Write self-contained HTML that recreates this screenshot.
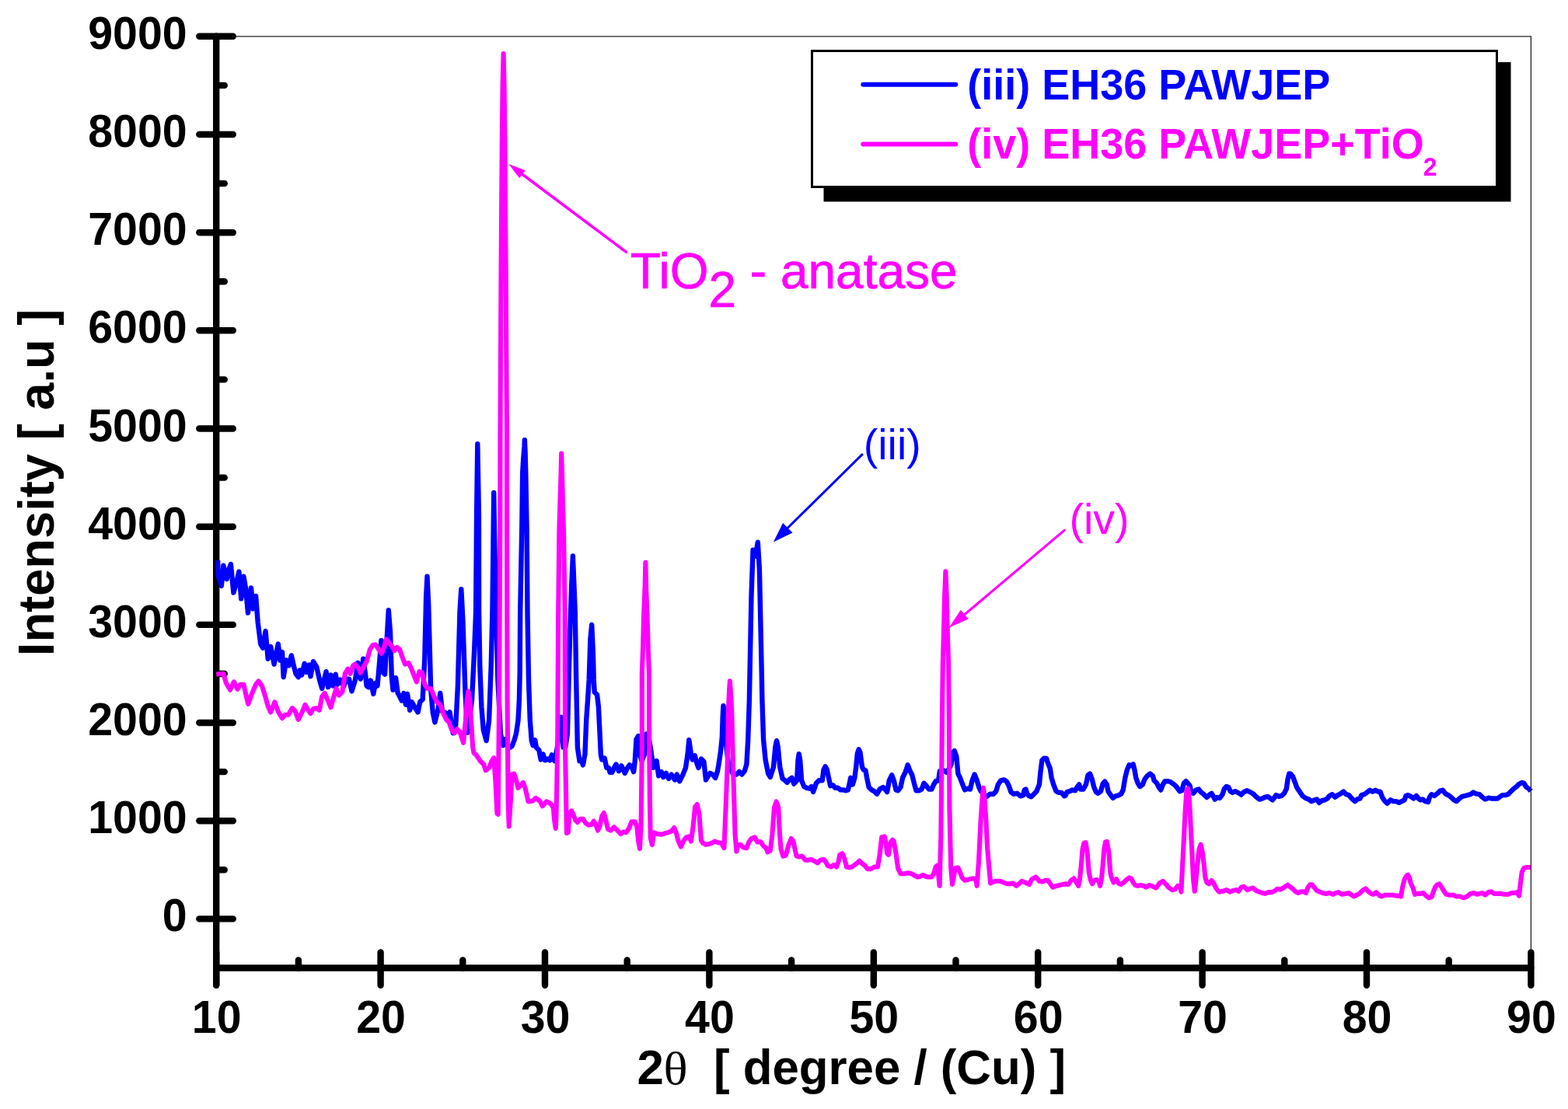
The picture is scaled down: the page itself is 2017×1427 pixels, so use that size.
<!DOCTYPE html>
<html lang="en"><head><meta charset="utf-8"><title>XRD pattern</title>
<style>
html,body{margin:0;padding:0;background:#fff;}
body{width:2017px;height:1427px;overflow:hidden;}
svg{display:block;}
text{font-family:"Liberation Sans",sans-serif;font-weight:bold;}
.tk{font-size:57.3px;fill:#000;}
.ttl{fill:#000;}
.lg{font-size:54px;}
.an{font-weight:normal;}
.th{font-family:"Liberation Serif",serif;font-weight:normal;}
</style></head><body>
<svg width="2017" height="1427" viewBox="0 0 2017 1427">
<rect x="0" y="0" width="2017" height="1427" fill="#fff"/>
<g stroke="#000" stroke-width="8.4" stroke-linecap="round" fill="none">
<path d="M278.2 46.8 V1267.7"/>
<path d="M278.2 1245.5 H1969.4"/>
<path d="M256.3 1182.4H299.8M256.3 1056.2H299.8M256.3 930.0H299.8M256.3 803.9H299.8M256.3 677.7H299.8M256.3 551.5H299.8M256.3 425.3H299.8M256.3 299.2H299.8M256.3 173.0H299.8M256.3 46.8H299.8M278.2 1119.3H288.8M278.2 993.1H288.8M278.2 867.0H288.8M278.2 740.8H288.8M278.2 614.6H288.8M278.2 488.4H288.8M278.2 362.2H288.8M278.2 236.1H288.8M278.2 109.9H288.8M278.2 1225.5V1267.7M489.6 1225.5V1267.7M701.0 1225.5V1267.7M912.4 1225.5V1267.7M1123.8 1225.5V1267.7M1335.2 1225.5V1267.7M1546.6 1225.5V1267.7M1758.0 1225.5V1267.7M1969.4 1225.5V1267.7M383.9 1235.4V1245.5M595.3 1235.4V1245.5M806.7 1235.4V1245.5M1018.1 1235.4V1245.5M1229.5 1235.4V1245.5M1440.9 1235.4V1245.5M1652.3 1235.4V1245.5M1863.7 1235.4V1245.5"/>
</g>
<polyline fill="none" stroke="#0000ff" stroke-width="6.4" stroke-linejoin="round" stroke-linecap="butt" points="280.1,720.9 280.6,740 284.8,753.9 287.4,727.8 291.7,745.2 293.5,734.8 296.9,726.1 300.4,762.6 303.9,750.4 307.4,735.6 310.3,770.4 313.4,741.7 316.1,757.4 319,788.6 323,756.5 325.6,783.4 329.1,766.9 331.7,800.8 335.2,828.6 338.1,833.8 341.6,812.1 344.7,847.7 348.2,832.1 352.6,854.7 357.8,828.6 360.4,849.5 363,839 364.7,871.2 368.2,849.5 371.7,856.4 374.8,843.4 377.8,856.4 380.4,866.8 383.8,871.2 385.6,862.5 388.2,868.6 391.7,853.8 394.3,865.1 397.7,855.5 399.5,870.3 403,851.2 407.3,858.2 410.8,873.8 414.2,886 419.5,864.2 422.1,884.2 425.5,868.6 428.2,882.5 431.6,867.7 434.2,880.7 437.7,874.7 442.1,883.4 445.5,873.8 449,873.8 452.5,889.4 456.8,875.5 460.3,852.9 463.8,873.8 467.3,847.7 469.9,866.8 471.6,882.5 474.2,884.2 476.8,875.5 480.3,892.9 482.9,879 485.5,882.5 488.1,852.9 490.4,824.3 492.5,865.1 495.1,867.7 497.7,821.7 499.8,785.2 502,813 503.8,870.3 505.5,887.7 509,872.1 511.6,891.2 516.8,901.6 519.4,892 522,906.8 524.1,892.9 527.2,913.8 529.8,903.3 534.2,911.2 537.6,916.4 540.2,903.3 543.7,899.9 546.3,847.7 548.1,769.5 549.5,741.7 551.2,778.2 554.2,887.7 556.8,917.2 559.4,929.4 563.7,912 566.3,892 568.9,915.5 573.3,917.2 575.9,924.2 578.5,916.4 582.8,943.3 586.3,932.9 588.9,882.5 591.5,786.9 593.3,758.2 595.3,795.6 598.5,891.2 601.3,942.7 607,901 610,840.1 612.1,788 613.1,661.7 614.3,571.3 615.9,661.7 616.1,788 617.3,857.5 619.4,909.7 621.8,939.2 625.6,953.1 629.1,927 631.7,857.5 633.4,788 634.3,713.8 635.2,634 636.6,713.8 638.3,788 640.4,874.9 643.9,944.4 647.4,959.2 650,951.4 653.4,960.1 656,961.8 658.6,960.1 661.3,953.1 663.9,944.4 666.5,927 667.9,901 668.7,866.2 669.2,788 670.5,720 671.3,680 672.2,608 673.3,590 674.5,575 674.9,566.3 675.6,582 676.3,609 677.6,680 678.5,788 680,874.9 681.8,927 683.8,953.1 685.6,959.2 688.2,952.2 689.9,961.8 693.4,965.3 695.7,977.4 698.6,970.5 701.2,978.3 704.7,976.6 707.3,978.3 709.9,971.4 713.4,979.2 716.9,961.8 719.5,935.7 721.7,922.7 723.5,944.4 724.7,961.8 727.3,961.8 729.9,944.4 731.6,874.9 733.4,805.4 735.1,757.2 736.9,715.4 738.6,757.2 739.8,788 741.2,874.9 742.9,961.8 745.5,979.2 748.2,978.3 749.9,984.4 752.5,970.5 754.2,927 756,901 757.7,874.9 759.4,822.8 761.2,804 762.9,840.1 763.8,874.9 764.7,890.5 768.1,894 769.9,909.7 771.6,944.4 772.8,970.5 774.2,977.4 777.7,975.7 780.3,987.9 782.9,987.9 784.6,993.9 787.3,993.9 789.9,987.9 792.5,983.5 795.9,992.2 799.4,985.3 803.8,994.8 807.2,987.9 809.8,984.4 812.5,986.1 815.1,993.1 816.8,979.2 818.5,951.4 821.1,947 822.9,970.5 825.5,979.2 829,970.5 831.6,944.4 834.2,947.9 836.8,961.8 840.3,987.9 844.6,979.2 847.2,998.3 850.7,993.1 853.3,1000 856.8,994.8 860.2,1001.8 863.7,996.6 868.1,1003.5 870.7,996.6 874.2,1005.2 878.5,996.6 882,987.9 884.6,970.5 886.3,952.2 888.9,970.5 890.7,977.4 893.8,972.2 895.9,980.9 898.5,987.9 902,976.6 905.4,980 908,1003.5 913.3,994.8 916.7,996.6 920.2,1000.9 922.8,993.1 924.3,985 927,967 928.8,949 929.8,920 930.5,908.3 932.1,926.1 933.5,952.1 937,983.4 942.2,994.7 947.4,996.5 950.9,993 954.3,996.5 957.8,992.1 960.4,983.4 962.2,952.1 963.9,900 964.8,853.8 966.5,766.9 968.6,707.8 971.7,715.6 974.8,697.7 976.9,732.1 979.5,853.8 980.4,900 982.1,952.1 984.7,978.2 988.2,995.6 990.8,999.9 995,986.9 997.4,960.8 999,953.2 1000.7,960.8 1003.2,986.9 1006.5,1001.7 1009.9,1004.3 1012.6,1006.9 1015.2,1003.4 1018.6,1000.8 1021.2,1008.6 1025.1,1004.3 1026.5,978.2 1027.7,970.2 1029.2,978.2 1031.1,1004.3 1034.3,1012.1 1037.8,1013.8 1041.2,1014.7 1043.8,1012.1 1046.1,1019 1048.2,1013 1049.9,1007.8 1053.4,1004.3 1057.7,1004.3 1059.5,990.4 1061.6,986.4 1063.8,990.4 1065.6,999.1 1068.2,1011.2 1071.6,1010.4 1074.2,1013.8 1077.7,1013.8 1081.2,1016.4 1084.7,1016.4 1088.2,1017.3 1090.8,1016.4 1092.5,1009.5 1094.2,1000.8 1096.8,1009.5 1099.4,1000.8 1101.2,986.9 1102.9,969.5 1104.7,964.3 1106.4,967.8 1109,986.9 1110.7,990.4 1113.4,991.2 1115.1,1000.8 1117.7,1013 1121.2,1016.4 1124.6,1018.2 1128.1,1021.7 1131.6,1015.6 1135.9,1013 1138.6,1015.6 1141.2,1019 1143.8,1004.3 1147.2,997.3 1149.8,1004.3 1152.5,1016.4 1155.1,1017.3 1158.5,1013 1161.1,1000.8 1164.6,993.8 1167.7,984.3 1170.7,992.1 1173.3,997.3 1175.9,1007.8 1178.5,1017.3 1182,1017.3 1185.5,1015.6 1188.6,1007.8 1191.6,1011.2 1195,1015.6 1198.5,1015.6 1201.1,1009.5 1203.7,1005.1 1207.2,1004.3 1208.9,992.1 1213.3,991.2 1217.6,993.8 1221.1,988.6 1223.7,983.4 1225.4,969.5 1227.7,966 1230.3,973 1232.4,995.6 1235,1000.8 1237.6,1007.8 1241.1,1016.4 1244.6,1014.7 1248,1015.6 1250.6,1004.3 1253.6,996.5 1256.7,1004.3 1259.3,1013 1261.9,1018.2 1265.4,1021.7 1268.9,1025.1 1273.5,1021.7 1277.8,1021.7 1281.3,1018.2 1283.9,1009.5 1287.4,1004.3 1291.7,1003.4 1295.2,1006 1297.8,1011.3 1300.4,1019.1 1303.9,1021.7 1308.2,1020.8 1312.6,1024.3 1316.1,1023.4 1317.8,1016.5 1319.5,1015.6 1321.3,1021.7 1323.9,1024.3 1326.5,1025.2 1330,1021.7 1333.4,1018.2 1336.9,1009.5 1338.6,992.1 1340.4,978.2 1343,975.6 1346.1,976 1348.2,982.6 1350.8,988.7 1352.6,1000.8 1355.2,1009.5 1358.6,1018.2 1362.1,1019.9 1365.6,1019.9 1369.1,1024.3 1370.8,1023.4 1372.5,1019.1 1376,1018.2 1379.5,1016.5 1383,1017.3 1385.6,1013 1388.2,1009.5 1389.9,1015.6 1393.4,1015.6 1396.9,1009.5 1399.5,997.4 1402.1,995.6 1404.7,1002.6 1407.3,1013 1409.9,1019.1 1412.5,1020.8 1416,1018.2 1418.6,1008.6 1421.2,1005.7 1423.8,1009.5 1425.5,1018.2 1429,1023.4 1431.6,1026.9 1435.1,1024.3 1438.6,1023.4 1442.1,1021.7 1444.7,1016.5 1447.3,1000.8 1449.9,990.4 1452.5,984.3 1455.1,985.2 1457.7,983.4 1459.4,990.4 1461.2,1000.8 1463.8,1007.8 1466.4,1012.1 1469.9,1009.5 1472.5,1002.6 1475.9,998.2 1479.4,995.6 1482.9,998.2 1484.6,1004.3 1488.1,1007.8 1490.7,1013 1493.3,1016.5 1495.9,1009.5 1498.5,1005.2 1502,1005.2 1505.5,1006 1509,1008.6 1512.4,1011.3 1515,1014.7 1517.7,1018.2 1520.3,1017.3 1522.9,1007.8 1525.5,1005.2 1528.1,1007.8 1530.7,1011.3 1532.4,1019.9 1535,1020.8 1538.5,1016.5 1542,1015.6 1544.6,1019.1 1548.1,1021.7 1552.4,1026 1555.9,1022.6 1558.5,1020.8 1561.1,1025.2 1562.8,1028.6 1565.4,1026 1568.9,1026.9 1572.4,1022.6 1575,1014.7 1577.6,1012.1 1580.2,1013 1582.8,1018.2 1585.4,1019.9 1588.9,1018.2 1592.4,1019.9 1596.7,1022.6 1600.2,1019.1 1603.7,1017.3 1608,1019.1 1612.4,1021.7 1615.8,1025.2 1620,1028.6 1623.6,1027.5 1627.1,1025.8 1630.7,1024.9 1634.3,1027.5 1637,1029.3 1639.7,1025.8 1641.4,1023.1 1645,1024.9 1648.6,1024 1652.2,1020.4 1654.8,1015 1656.6,1002.5 1658.4,995.4 1660.2,995.7 1662.9,999 1665.6,1006.1 1668.2,1013.3 1671.8,1018.6 1675.4,1024 1679,1026.7 1683.4,1028.4 1687,1031.1 1691.5,1029.3 1694.1,1028.4 1696.8,1032.9 1700.4,1030.2 1704,1029.3 1707.5,1027.5 1710.2,1024 1713.8,1022.2 1717.4,1025.8 1720.9,1023.1 1724.5,1021.3 1728.1,1018.6 1731.7,1022.2 1735.2,1023.1 1738.8,1027.5 1742.9,1031.1 1746,1028.4 1749.5,1027.5 1751.3,1023.1 1754.9,1022.2 1758.5,1019.5 1762,1016.8 1765.6,1018.6 1769.2,1016.8 1772.8,1018.6 1775.4,1018.6 1778.1,1025.8 1780.8,1030.2 1784.4,1033.8 1788.8,1029.3 1792.4,1031.1 1796,1031.1 1799.6,1032.9 1803.1,1031.1 1806.7,1029.3 1808.5,1024 1811.2,1023.1 1814.7,1024.9 1818.3,1027.5 1821.9,1024 1824.6,1027.5 1827.3,1029.3 1829.9,1028.4 1833.5,1031.1 1837.1,1032 1838.9,1025.8 1841.5,1022.2 1845.1,1024 1848.7,1021.3 1852.3,1017.7 1855.8,1016.8 1859.4,1021.3 1863,1023.1 1866.6,1025.8 1870.1,1029.3 1873.7,1031.1 1877.3,1027.5 1880.9,1024.9 1884.4,1024 1888,1023.1 1891.6,1022.2 1895.1,1019.5 1898.7,1021.3 1903.2,1022.2 1906.8,1025.8 1910.3,1028.4 1914.8,1026.7 1918.4,1027.5 1921.9,1027.5 1926.4,1027.5 1930,1024.9 1932.7,1023.1 1936.2,1023.1 1939.8,1022.2 1943.4,1018.6 1947,1015 1950.5,1012.4 1954.1,1008.8 1957.7,1007 1960.4,1007.9 1963,1012.4 1966.6,1015 1969.2,1018"/>
<polyline fill="none" stroke="#ff00ff" stroke-width="6.1000000000000005" stroke-linejoin="round" stroke-linecap="butt" points="278.2,867.5 287.4,866.8 290.9,879 296.1,887.7 300.9,877.3 305.6,886.8 309.1,880.7 313.4,880.7 316.9,896.4 319.2,905.9 323.9,892.9 329.1,880.7 332.6,876.4 336.9,882.5 341.3,896.4 344.7,908.6 348.2,916.4 353.4,903.3 357.8,915.5 363,924.2 366.5,919.8 370.8,919.8 376,911.2 379.5,914.6 383.8,925.9 388.2,917.2 392.5,906.8 396,912.9 399.5,918.1 403,912 407.3,911.2 410.8,913.8 414.2,896.4 417.7,892 421.2,899.9 425.5,910.3 429.9,894.6 432.5,886 436,894.6 440.3,890.3 443.8,866.8 447.3,860.8 450.7,866.8 454.2,856.4 456.8,854.7 461.2,859.9 463.8,866 468.1,857.3 471.6,851.2 475.9,835.6 479.4,830.3 482.9,829.5 487.2,835.6 490.7,840.8 494.2,832.1 496.8,822.5 500.3,826.9 504.6,832.1 507.2,837.3 510.7,833 514.2,835.6 517.7,846 521.1,854.7 525.5,852.9 529,859.9 532.4,868.6 535.9,877.3 539.4,864.2 542.9,865.1 546.3,880.7 549.8,886 554.2,886 558.5,896.4 562,903.3 566.3,906.8 570.7,919 574.1,925.9 577.6,929.4 581.1,939 584.6,943.3 588,938.1 591.5,941.6 593.5,947.9 596.1,955.7 598.9,927 600.8,899.2 602.5,889.7 604.3,899.2 606,927 608.2,961.8 609.5,968.7 612.6,971.4 617.8,979.2 622.2,983.5 624.8,991.3 629.1,987.9 632.6,979.2 635.2,975.3 637.3,1003.4 639.5,1046.9 640.7,1047.8 642.1,900 643.3,680 643.5,560 644.6,345 645.8,180 646.6,110 647.6,69 648.6,110 649.4,180 650.6,345 652,560 652,680 652.6,900 653.6,1029.5 654.7,1063.4 656.9,1029.5 658.6,996.5 661.3,995.6 663.9,1003.4 666.5,1013.9 669.9,1010.4 673.1,1006.9 676,1015.6 679.5,1031.3 682.1,1031.3 685.6,1030.4 689.1,1026.9 694.3,1030.4 697.8,1037.3 703,1031.3 708.2,1033.9 711.7,1039.1 713.4,1057.3 714.8,1066 715.6,1047 717.2,960 717.5,900 718.2,788 719.4,682 720.5,644 721.6,609 722.2,583.6 723,609 723.9,644 725,682 726.6,788 726.9,900 727,960 728.5,1047 729,1072 730.8,1071.2 732.5,1046.9 735.1,1043.4 737.7,1048.6 740.3,1055.6 742.9,1058.2 746.4,1053.8 749.9,1053.8 753.4,1059.1 756.8,1061.7 761.2,1060.8 763.8,1056.5 766.4,1060.8 769,1068.6 771.6,1062.5 774.2,1050.4 776.8,1046 779.4,1055.6 782,1066.9 785.5,1068.6 789.9,1064.3 794.2,1068.6 798.6,1073 802,1070.4 805.5,1071.2 809,1066 812.5,1057.3 816.8,1057.3 819.4,1064.3 821.1,1081.7 822.9,1092 824.6,1064 825.8,960 825.8,868 827.1,831 828.2,790 829.6,756 830.4,723.7 831.1,756 832.5,790 833.6,831 835,868 835.2,960 835.9,1029 836.8,1078 838.9,1087 841.1,1071.2 845.5,1073 850.7,1073.8 855.9,1072.1 859.4,1071.2 863.7,1069.5 867.2,1065.1 869.8,1071.2 872.4,1081.7 875.9,1089.5 879.4,1081.7 882.8,1077.3 886.3,1076.4 888.9,1082.5 891.5,1064.3 894.1,1038.2 896.7,1035.1 899.4,1046.9 902,1081.7 904.6,1085.1 908,1086.9 911.5,1086 915,1085.1 919.3,1082.5 923.7,1084.3 928,1085.1 931.5,1091.2 933.6,1039 935.7,985 937,913.6 938,890 938.9,876.4 939.9,890 941.2,913.6 943,985 944.6,1040 945.6,1073.8 947.4,1095.5 949.1,1087.7 952.6,1086.8 956.1,1090.3 960.4,1091.2 963,1084.2 966.5,1079 970.8,1077.3 974.3,1083.4 978.7,1083.4 982.1,1088.6 985.6,1091.2 987.4,1096.4 990.8,1094.6 993.4,1073.8 996,1039 998.6,1031.4 1001.3,1039 1003,1073.8 1004.7,1092.9 1007.3,1101.6 1010.8,1100.7 1014.3,1087.7 1017.8,1079 1020.4,1082.5 1023,1094.6 1024.7,1101.6 1028.2,1102.5 1031.7,1101.6 1036,1106.8 1039.5,1106.8 1043,1105.9 1047.3,1107.7 1051.7,1110.3 1055.1,1106.8 1059.5,1105.9 1062.1,1108.6 1064.7,1113.8 1069,1115.5 1072.5,1112.9 1076,1115.5 1078.6,1108.6 1080.3,1099.9 1083.5,1098.1 1086.4,1105.1 1089,1115.5 1092.5,1116.4 1096,1115.5 1099.4,1112.9 1102.9,1110.3 1105.5,1107.7 1109,1111.2 1112.5,1113.8 1116,1118.1 1120.3,1118.1 1124.6,1115.5 1129,1115.5 1131.6,1099.9 1134.2,1077.3 1137.7,1076.4 1139.4,1084.2 1141.2,1098.1 1142.9,1099.9 1145.5,1084.2 1148.1,1080.7 1149.8,1082.5 1152.5,1098.1 1155.1,1117.2 1158.5,1124.2 1162.9,1124.2 1168.1,1123.3 1172.4,1124.2 1176.8,1126.8 1180.3,1128.5 1183.7,1127.7 1187.2,1125.9 1190.7,1127.7 1194.2,1128.5 1198.5,1128.5 1201.1,1124.2 1203.7,1115.5 1205.5,1113.8 1207.2,1125.9 1208.6,1139.8 1210.4,1074 1211.9,928 1212.8,854 1213.8,820 1215,770 1216.4,735.4 1217.8,770 1219,820 1220.1,854 1220.9,928 1221.4,1039 1223.2,1117 1225.1,1138 1227.2,1125.9 1228.9,1117.2 1232.4,1116.4 1235,1122.5 1237.6,1129.4 1241.1,1132.9 1244.6,1132 1248,1131.1 1252.4,1130.3 1255,1131.1 1256.7,1139.8 1259,1108.6 1261.6,1056.4 1263.9,1021.7 1265.1,1013.7 1266.6,1030.3 1268.4,1056.4 1270.1,1091.2 1272.4,1117.2 1274.1,1136.4 1277.8,1134.6 1282.2,1133.8 1286.5,1133.8 1290.9,1135.5 1295.2,1137.3 1299.5,1137.3 1303,1136.4 1307.4,1139.9 1310.8,1137.3 1314.3,1133.8 1318.7,1135.5 1323.9,1138.1 1327.4,1131.2 1332.6,1128.6 1336.9,1133.8 1340.4,1134.6 1344.7,1132.9 1348.2,1132.9 1351.7,1138.1 1354.3,1141.6 1358.6,1139.9 1363,1139 1367.3,1138.1 1370.8,1137.3 1374.3,1138.1 1377.8,1132.9 1381.2,1130.3 1384.7,1135.5 1387.3,1139.9 1389,1131.2 1390.8,1113.8 1392.5,1092.9 1394.3,1085.1 1396.5,1084.1 1398.6,1096.4 1400.7,1122.5 1403,1132.9 1405.2,1137.3 1407.3,1132.9 1410.8,1132 1413.4,1133.8 1415.1,1139.9 1416.9,1131.2 1418.6,1113.8 1420.3,1092.9 1422.1,1083.4 1423.8,1082.9 1426.4,1096.4 1428.2,1122.5 1429.9,1129.4 1432.5,1135.5 1436,1131.2 1438.6,1136.4 1442.1,1138.1 1445.5,1135.5 1449,1132 1452.5,1129.4 1455.1,1130.3 1457.7,1135.5 1460.3,1139 1463.8,1139.9 1467.3,1139 1471.6,1139.9 1474.2,1141.6 1478.6,1139 1482.9,1140.7 1487.2,1142.5 1491.6,1136.4 1495.9,1133.8 1499.4,1137.3 1503.8,1142.5 1508.1,1145.1 1511.6,1144.2 1515,1139.9 1517.7,1139.9 1519.4,1147.7 1521.1,1113.8 1522.9,1079 1524.6,1044.3 1526.3,1018.2 1528.1,1014.6 1529.8,1026.9 1531.6,1061.7 1533.3,1096.4 1535,1131.2 1536.8,1146.8 1538.5,1131.2 1540.2,1113.8 1542.5,1092.9 1544.6,1086.7 1546.7,1096.4 1548.9,1113.8 1550.2,1128.6 1552.4,1135.5 1555,1137.3 1558.5,1132.9 1561.1,1136.4 1564.6,1143.3 1568.1,1147.7 1572.4,1146.8 1577.6,1145.1 1582,1147.7 1586.3,1145.9 1590.6,1145.1 1593.3,1146.8 1596.7,1141.6 1600.2,1140.7 1604.5,1145.1 1608.9,1143.3 1611.5,1142.5 1615.8,1145.9 1620,1147.7 1623.6,1149 1627.1,1149.9 1631.6,1148.1 1636.1,1148.1 1639.7,1146.4 1643.2,1143.7 1646.8,1144.6 1650.4,1142.8 1653.9,1140.1 1656.6,1138.7 1659.3,1141 1662.9,1143.7 1666.5,1147.3 1670,1149 1673.6,1147.3 1677.2,1147.3 1679.9,1149 1682.5,1141.9 1685.2,1138.3 1687.9,1138.3 1690.6,1141.9 1693.3,1145.5 1696.8,1147.3 1701.3,1149 1705.8,1149.9 1710.2,1149 1714.7,1150.8 1718.3,1149 1721.8,1148.1 1726.3,1150.8 1730.8,1149.9 1735.2,1149 1738.8,1151.7 1741.5,1153.5 1745.1,1151.7 1748.6,1149.9 1753.1,1145.5 1756.7,1143.3 1760.3,1147.3 1763.8,1149.9 1766.5,1150.8 1770.1,1148.1 1773.7,1151.7 1777.2,1153.5 1781.7,1151.7 1786.2,1151.7 1791.5,1151.7 1796,1152.6 1799.6,1152.6 1802.2,1153.5 1804,1141.9 1806.7,1131.2 1809.4,1126.7 1811.2,1125.8 1813,1129.4 1814.7,1136.5 1817.4,1141.9 1820.1,1150.8 1823.7,1149.9 1827.3,1149.9 1830.8,1149 1834.4,1152.6 1838,1155.3 1841.5,1154.4 1843.3,1149 1846,1141.9 1848.7,1138.3 1851.4,1137.4 1854.1,1141 1856.7,1145.5 1860.3,1150.8 1864.8,1151.7 1869.2,1151.7 1873.7,1153.5 1878.2,1153.5 1882.6,1155.3 1887.1,1153.5 1891.6,1149.9 1896,1149 1899.6,1150.8 1903.2,1149.9 1906.8,1149 1910.3,1151.7 1914.8,1148.1 1918.4,1147.3 1921.9,1149.9 1926.4,1149.9 1930.9,1149.9 1935.3,1150.8 1939.8,1150.8 1944.3,1149 1947.9,1149 1951.4,1148.1 1954.1,1152.6 1955.9,1136.5 1957.7,1122.2 1960.4,1116.9 1963.9,1116 1969.2,1116"/>
<path d="M298.2 46.8 H1969.4 V1225.5" fill="none" stroke="#222" stroke-width="1.3"/>
<text class="tk" transform="translate(240.7 1198.4) scale(1 1.04)" text-anchor="end">0</text>
<text class="tk" transform="translate(240.7 1072.2) scale(1 1.04)" text-anchor="end">1000</text>
<text class="tk" transform="translate(240.7 946.0) scale(1 1.04)" text-anchor="end">2000</text>
<text class="tk" transform="translate(240.7 819.9) scale(1 1.04)" text-anchor="end">3000</text>
<text class="tk" transform="translate(240.7 693.7) scale(1 1.04)" text-anchor="end">4000</text>
<text class="tk" transform="translate(240.7 567.5) scale(1 1.04)" text-anchor="end">5000</text>
<text class="tk" transform="translate(240.7 441.3) scale(1 1.04)" text-anchor="end">6000</text>
<text class="tk" transform="translate(240.7 315.2) scale(1 1.04)" text-anchor="end">7000</text>
<text class="tk" transform="translate(240.7 189.0) scale(1 1.04)" text-anchor="end">8000</text>
<text class="tk" transform="translate(240.7 62.8) scale(1 1.04)" text-anchor="end">9000</text>
<text class="tk" transform="translate(278.7 1328.6) scale(1 1.04)" text-anchor="middle">10</text>
<text class="tk" transform="translate(490.1 1328.6) scale(1 1.04)" text-anchor="middle">20</text>
<text class="tk" transform="translate(701.5 1328.6) scale(1 1.04)" text-anchor="middle">30</text>
<text class="tk" transform="translate(912.9 1328.6) scale(1 1.04)" text-anchor="middle">40</text>
<text class="tk" transform="translate(1124.3 1328.6) scale(1 1.04)" text-anchor="middle">50</text>
<text class="tk" transform="translate(1335.7 1328.6) scale(1 1.04)" text-anchor="middle">60</text>
<text class="tk" transform="translate(1547.1 1328.6) scale(1 1.04)" text-anchor="middle">70</text>
<text class="tk" transform="translate(1758.5 1328.6) scale(1 1.04)" text-anchor="middle">80</text>
<text class="tk" transform="translate(1969.9 1328.6) scale(1 1.04)" text-anchor="middle">90</text>
<text class="ttl" font-size="61.8" transform="translate(819.4 1394.5) scale(1 1.03)">2</text>
<text class="ttl th" font-size="59" transform="translate(853.5 1394.5) scale(1.1 1)">θ</text>
<text class="ttl" font-size="61.8" transform="translate(917.9 1394.5) scale(1 1.03)" xml:space="preserve">[ degree / (Cu) ]</text>
<text class="ttl" font-size="63.3" transform="translate(69 844.2) rotate(-90) scale(1 1.03)" xml:space="preserve">Intensity [ a.u ]</text>
<rect x="1059.5" y="80" width="884" height="179.5" fill="#000"/>
<rect x="1044.5" y="65.5" width="881" height="175" fill="#fff" stroke="#000" stroke-width="3"/>
<path d="M1110.3 108.7H1229.3" stroke="#0000ff" stroke-width="6" stroke-linecap="round"/>
<path d="M1110.3 185.5H1229.3" stroke="#ff00ff" stroke-width="6" stroke-linecap="round"/>
<text class="lg" transform="translate(1244.2 127.7) scale(1 1.02)" fill="#0000ff">(iii) EH36 PAWJEP</text>
<text class="lg" transform="translate(1244.2 204.3) scale(1 1.02)" fill="#ff00ff">(iv) EH36 PAWJEP+TiO<tspan font-size="32" dx="-1" dy="21">2</tspan></text>
<path d="M805.6 324.4L671.9 224.3" stroke="#ff00ff" stroke-width="3.6" stroke-linecap="round" fill="none"/><path d="M654.3 211.1L675.7 219.3L668.2 229.3Z" fill="#ff00ff"/>
<path d="M1109.0 584.9L1013.3 679.3" stroke="#0000ff" stroke-width="3.0" stroke-linecap="round" fill="none"/><path d="M994.8 697.6L1007.1 673.1L1019.5 685.6Z" fill="#0000ff"/>
<path d="M1369.4 682.1L1240.8 790.7" stroke="#ff00ff" stroke-width="3.2" stroke-linecap="round" fill="none"/><path d="M1220.6 807.7L1235.8 784.8L1245.7 796.6Z" fill="#ff00ff"/>
<text class="an" x="810.7" y="371" font-size="64" fill="#ff00ff" stroke="#ff00ff" stroke-width="0.7">TiO<tspan dy="24">2</tspan><tspan dy="-24"> - anatase</tspan></text>
<text class="an" x="1110.8" y="590.7" font-size="55.5" fill="#0000ff">(iii)</text>
<text class="an" x="1375.5" y="687.4" font-size="55.5" fill="#ff00ff">(iv)</text>
</svg>
</body></html>
